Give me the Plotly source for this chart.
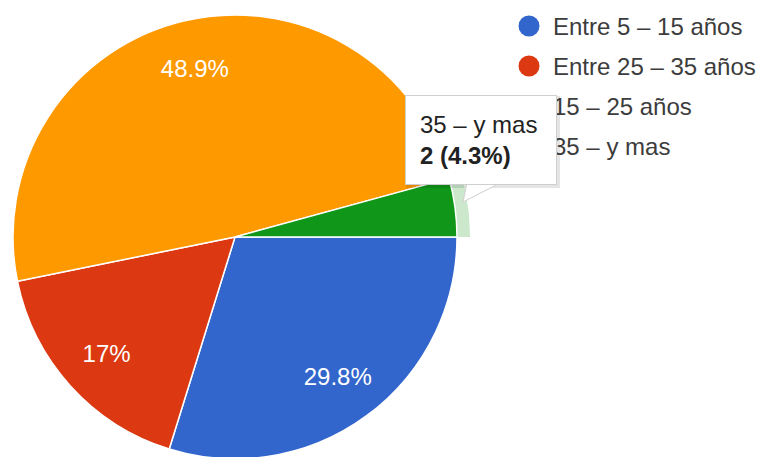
import math
import plotly.graph_objects as go

# ---- data ----
labels = ["Entre 5 – 15 años", "Entre 25 – 35 años", "15 – 25 años", "35 – y mas"]
counts = [14, 8, 23, 2]
colors = ["#3366cc", "#dc3912", "#ff9900", "#109618"]
hover_index = 3  # highlighted slice (tooltip)

W, H = 765, 457
CX, CY, R = 227, 229, 222   # figure-pixel centre / radius of the pie
FONT = "Liberation Sans, Arial, sans-serif"

# legend layout (figure pixels)
LEG_X, LEG_Y0, LEG_DY = 521, 18, 40

total = sum(counts)
def fmt_pct(v):
    p = round(100.0 * v / total, 1)
    s = f"{p:.1f}"
    if s.endswith(".0"):
        s = s[:-2]
    return s + "%"

pct_text = [fmt_pct(v) if v / total >= 0.05 else "" for v in counts]
dom = dict(x=[(CX - R) / W, (CX + R) / W], y=[(H - CY - R) / H, (H - CY + R) / H])

fig = go.Figure()

# halo around highlighted slice (angles from data)
start_frac = sum(counts[:hover_index]) / total
end_frac = sum(counts[:hover_index + 1]) / total
def pt(frac, r):
    th = math.radians(90 + 360 * frac)
    return CX + r * math.sin(th), CY - r * math.cos(th)
n = 40
outer = [pt(start_frac + (end_frac - start_frac) * i / n, R + 13) for i in range(n + 1)]
inner = [pt(end_frac - (end_frac - start_frac) * i / n, R - 1) for i in range(n + 1)]
poly = outer + inner + [outer[0]]
fig.add_trace(go.Scatter(
    x=[p[0] for p in poly], y=[p[1] for p in poly], mode="lines",
    fill="toself", fillcolor="rgba(16,150,24,0.22)", line=dict(width=0),
    hoverinfo="skip", showlegend=False,
))

# legend markers (drawn as a scatter so the tooltip can cover them)
leg_y = [LEG_Y0 + i * LEG_DY for i in range(len(labels))]
fig.add_trace(go.Scatter(
    x=[LEG_X] * len(labels), y=leg_y, mode="markers",
    marker=dict(symbol="circle", size=21, color=colors, line=dict(width=0)),
    hoverinfo="skip", showlegend=False,
))

# main pie
fig.add_trace(go.Pie(
    labels=labels, values=counts, sort=False, direction="clockwise", rotation=90,
    marker=dict(colors=colors, line=dict(color="white", width=1.5)),
    textinfo="none", domain=dom, showlegend=False, hoverinfo="skip",
))

# transparent donut overlay only to place the percentage labels further out
fig.add_trace(go.Pie(
    labels=labels, values=counts, sort=False, direction="clockwise", rotation=90,
    hole=0.56, marker=dict(colors=["rgba(0,0,0,0)"] * len(counts), line=dict(width=0)),
    text=pct_text, textinfo="text", textposition="inside",
    insidetextorientation="horizontal",
    textfont=dict(family=FONT, size=24, color="white"),
    domain=dom, showlegend=False, hoverinfo="skip",
))

# legend labels
for lab, y in zip(labels, leg_y):
    fig.add_annotation(
        xref="x", yref="y", x=LEG_X + 22, y=y, xanchor="left", yanchor="middle",
        text=lab, showarrow=False, font=dict(family=FONT, size=24, color="#3c3c3c"),
    )

# tooltip box, shadow and tail
BX0, BY0, BX1, BY1 = 397, 87, 549, 177
PAD = 14
shapes = [
    dict(type="rect", xref="x", yref="y", x0=BX0 + 1, y0=BY0 + 1, x1=BX1 + 3, y1=BY1 + 3,
         fillcolor="rgba(0,0,0,0.10)", line=dict(width=0), layer="above"),
    dict(type="path", xref="x", yref="y",
         path=f"M {BX0+62},{BY1-2} L {BX0+58},{BY1+17} L {BX0+95},{BY1-2}",
         fillcolor="white", line=dict(color="#cfcfcf", width=1), layer="above"),
]

tip = f"{labels[hover_index]}<br><b>{counts[hover_index]} ({fmt_pct(counts[hover_index])})</b>"
fig.add_annotation(
    xref="x", yref="y", x=BX0, y=BY0, xanchor="left", yanchor="top",
    width=BX1 - BX0 - 2 * PAD - 2, height=BY1 - BY0 - 2 * PAD - 2,
    text=tip, showarrow=False, align="left", valign="middle",
    font=dict(family=FONT, size=24, color="#222222"),
    bgcolor="white", bordercolor="#cfcfcf", borderwidth=1, borderpad=PAD,
)

fig.update_layout(
    width=W, height=H, margin=dict(l=0, r=0, t=0, b=0),
    paper_bgcolor="white", plot_bgcolor="white",
    xaxis=dict(range=[0, W], visible=False, fixedrange=True, domain=[0, 1]),
    yaxis=dict(range=[H, 0], visible=False, fixedrange=True, domain=[0, 1]),
    shapes=shapes,
    showlegend=False,
)

fig.write_html("out.html")
